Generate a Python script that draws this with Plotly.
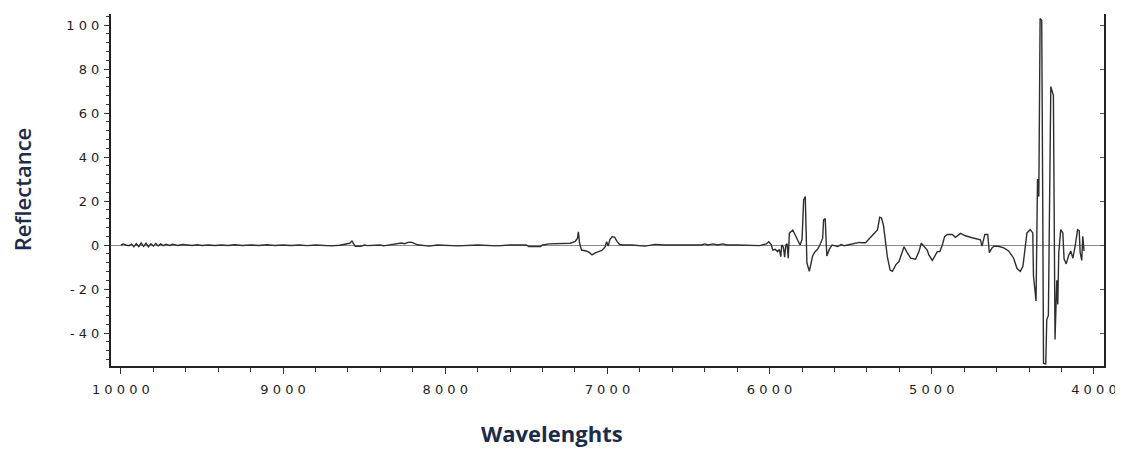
import plotly.graph_objects as go

# Spectrum data (wavenumber, reflectance)
wavenumber = [
    10000, 9985, 9970, 9950, 9935, 9920, 9905, 9890, 9875, 9860, 9845, 9830, 9815, 9800, 9785,
    9770, 9755, 9740, 9720, 9700, 9680, 9650, 9620, 9590, 9560, 9530, 9500, 9460, 9420, 9380,
    9340, 9300, 9250, 9200, 9150, 9100, 9050, 9000, 8950, 8900, 8850, 8800, 8750, 8700, 8650,
    8620, 8590, 8575, 8565, 8555, 8520, 8500, 8480, 8440, 8400, 8380, 8340, 8300, 8270, 8250,
    8230, 8210, 8190, 8170, 8100, 8050, 7920, 7800, 7680, 7600, 7500, 7486, 7412, 7400, 7360,
    7300, 7260, 7230, 7200, 7185, 7179, 7172, 7160, 7130, 7110, 7095, 7075, 7056, 7035, 7015,
    7005, 6995, 6985, 6970, 6955, 6940, 6925, 6900, 6850, 6767, 6740, 6706, 6650, 6500, 6420,
    6400, 6380, 6350, 6320, 6290, 6260, 6200, 6100, 6060, 6040, 6020, 6005, 5990, 5980, 5965,
    5950, 5940, 5931, 5925, 5915, 5907, 5900, 5892, 5885, 5878, 5857, 5840, 5827, 5812, 5800,
    5790, 5780, 5776, 5770, 5755, 5745, 5735, 5720, 5704, 5690, 5673, 5667, 5657, 5652, 5647,
    5632, 5615, 5600, 5581, 5560, 5540, 5520, 5500, 5478, 5460, 5447, 5430, 5408, 5390, 5366,
    5350, 5335, 5321, 5310, 5298, 5284, 5274, 5257, 5243, 5232, 5222, 5202, 5186, 5171, 5155,
    5130, 5100, 5079, 5065, 5048, 5028, 5018, 4997, 4983, 4966, 4950, 4935, 4921, 4905, 4874,
    4854, 4823, 4793, 4751, 4720, 4700, 4690, 4673, 4655, 4645, 4630, 4618, 4590, 4556, 4526,
    4495, 4475, 4454, 4438, 4424, 4413, 4393, 4377, 4373, 4363, 4357, 4348, 4340, 4332, 4322,
    4316, 4311, 4297, 4291, 4281, 4274, 4266, 4250, 4246, 4240, 4229, 4223, 4217, 4205, 4192,
    4184, 4171, 4157, 4143, 4130, 4116, 4101, 4091, 4085, 4075, 4069, 4061,
]
reflectance = [
    0, 0.5, 0, -0.3, 0.4, -0.8, 0.6, -0.7, 0.9, -0.6, 0.8, -0.8, 0.6, -0.5, 0.7,
    -0.4, 0.5, -0.3, 0.3, -0.2, 0.3, -0.2, 0.2, 0, -0.2, 0.1, -0.2, 0, -0.2, 0,
    -0.2, 0.1, -0.2, 0, -0.2, 0.1, -0.2, 0, -0.2, 0, -0.3, 0, -0.2, -0.4, -0.1,
    0.3, 0.8, 1.8, 0.5, -0.6, -0.6, 0, -0.3, -0.2, 0, -0.4, 0, 0.3, 0.9, 0.6,
    1.2, 1.3, 0.6, 0.1, -0.5, 0, -0.4, 0, -0.4, 0, 0, -0.7, -0.7, 0, 0.5,
    0.5, 0.8, 0.8, 1.5, 3, 6, 1, -2.3, -2.7, -3.5, -4.5, -3.6, -3, -2.5, -1,
    1.5, -0.5, 2.5, 3.8, 3.5, 1.5, 0.2, 0, 0, -0.5, 0, 0.3, 0, 0, 0,
    0.5, 0, 0.5, 0, 0.5, 0, 0, 0, -0.3, 0.2, 0.5, 1.5, 0.2, -2.3, -2,
    -3, -2, -5.3, 0, -1, -5.5, 0, 0.5, -6, 5.4, 6.8, 4.5, 2.5, 0, 2.5,
    20.5, 22, 5, -8, -12, -8, -5, -3, -2, 0, 3, 11.4, 12, 3, -5,
    -2, 0, -0.3, -0.7, 0.2, -0.3, 0, 0.3, 0.8, 1.2, 1.2, 1.0, 1.0, 2.5, 4.5,
    5.5, 6.8, 12.6, 12.3, 9, 1, -5.3, -11.4, -12, -10.5, -9, -7.5, -3.8, -0.8, -3,
    -6, -6.5, -3, 0.8, -0.7, -2.3, -4.5, -7, -5.3, -3, -3, 0, 3.8, 4.8, 4.8,
    3.5, 5.3, 4.2, 3.3, 2.6, 2.3, -0.5, 4.8, 4.8, -3.5, -1.5, -0.6, -0.6, -1.3, -2.7,
    -6, -10.6, -12, -9.7, -0.5, 5.5, 7, 5.5, -14, -20, -25.4, 30, 22, 103, 102,
    22, -53.8, -54, -34, -32, 16, 72, 68, 17, -43, -16, -27, -3.5, 7, 5.5,
    -6.4, -8.6, -5, -2.7, -6, -0.5, 7, 6.5, -3.5, -7, 4, -2.7,
]

x_ticks = [10000, 9000, 8000, 7000, 6000, 5000, 4000]
x_tick_text = ["1 0 0 0 0", "9 0 0 0", "8 0 0 0", "7 0 0 0", "6 0 0 0", "5 0 0 0", "4 0 0 0"]
y_ticks = [-40, -20, 0, 20, 40, 60, 80, 100]
y_tick_text = ["- 4 0", "- 2 0", "0", "2 0", "4 0", "6 0", "8 0", "1 0 0"]

x_range = [10061, 3938]
y_range = [-55, 105]

tick_font = dict(family="DejaVu Sans", size=13, color="#1e1e1e")

fig = go.Figure()
fig.add_trace(go.Scatter(
    x=wavenumber, y=reflectance, mode="lines",
    line=dict(color="#2e2e2e", width=1.4),
    showlegend=False, hoverinfo="skip",
))
# empty trace to bind the right-hand axis
fig.add_trace(go.Scatter(x=[], y=[], yaxis="y2", showlegend=False, hoverinfo="skip"))

# page body has an 8px default margin, so the figure is 8px smaller each way
fig.update_layout(
    width=1115, height=441,
    margin=dict(l=103, r=16, t=6, b=83),
    paper_bgcolor="white", plot_bgcolor="white",
    xaxis=dict(
        range=x_range, tickmode="array", tickvals=x_ticks, ticktext=x_tick_text,
        ticks="outside", ticklen=6, tickwidth=1.3, tickcolor="#333333",
        minor=dict(dtick=200, tick0=4000, ticks="outside", ticklen=4, tickcolor="#333333", tickwidth=1.3),
        showline=True, linecolor="#222222", linewidth=2,
        showgrid=False, zeroline=False, tickfont=tick_font, ticklabelstandoff=4,
    ),
    yaxis=dict(
        range=y_range, tickmode="array", tickvals=y_ticks, ticktext=y_tick_text,
        ticks="outside", ticklen=5, tickwidth=1.3, tickcolor="#333333",
        minor=dict(dtick=4, tick0=0, ticks="outside", ticklen=3, tickcolor="#333333", tickwidth=1.3),
        showline=True, linecolor="#222222", linewidth=2,
        showgrid=False, zeroline=True, zerolinecolor="#8a8a8a", zerolinewidth=1.2,
        tickfont=tick_font, ticklabelstandoff=2,
    ),
    yaxis2=dict(
        range=y_range, overlaying="y", side="right", tickmode="array", tickvals=y_ticks,
        ticks="inside", ticklen=4, tickcolor="#555555", showticklabels=False,
        showline=True, linecolor="#222222", linewidth=2, showgrid=False, zeroline=False,
    ),
    annotations=[
        dict(text="Wavelenghts", xref="paper", yref="paper", x=0.4438, y=-0.19,
             xanchor="center", yanchor="middle", showarrow=False,
             font=dict(family="Open Sans", size=22, color="#1d2b4a", weight="bold")),
        dict(text="Reflectance", xref="paper", yref="paper", x=-0.0894, y=0.5,
             xanchor="center", yanchor="middle", showarrow=False, textangle=-90,
             font=dict(family="Open Sans", size=22, color="#1d2b4a", weight=600)),
    ],
)

fig.write_html("out.html")
